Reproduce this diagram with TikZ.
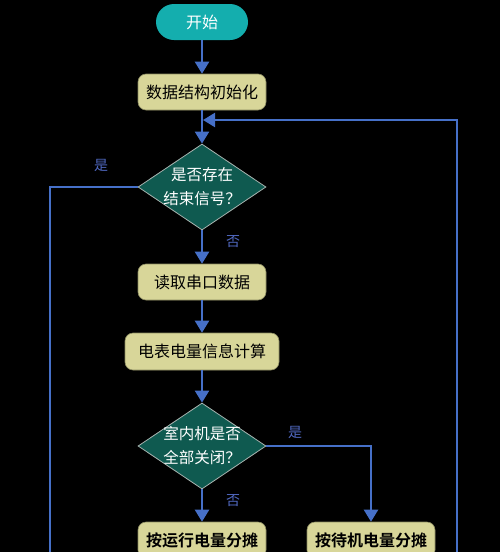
\documentclass[tikz,border=0pt]{standalone}
\usepackage{fontspec}
\newfontfamily\cjk[BoldFont={Noto Sans CJK SC Bold}]{Noto Sans CJK SC}
\usetikzlibrary{shapes.geometric}
\usetikzlibrary{arrows.meta}
\definecolor{bgblack}{HTML}{000000}
\definecolor{startteal}{HTML}{14AEAE}
\definecolor{boxkhaki}{HTML}{D8D699}
\definecolor{boxedge}{HTML}{8A8A60}
\definecolor{decgreen}{HTML}{0F5A50}
\definecolor{decedge}{HTML}{A8B4B0}
\definecolor{flowblue}{HTML}{4670C8}
\definecolor{lblblue}{HTML}{5068C0}
\tikzset{
	basenode/.style = {align=center, inner sep=0pt, text centered,
		font=\cjk\fontsize{16}{24}\selectfont},
	startnode/.style = {basenode, rectangle, rounded corners=18pt, fill=startteal,
		text=white, minimum width=92pt, minimum height=36pt},% start
	procnode/.style = {basenode, rectangle, rounded corners=8pt, fill=boxkhaki,
		draw=boxedge, line width=0.6pt, text=black, minimum width=128pt,
		minimum height=36pt},% process box
	decnode/.style = {basenode, diamond, fill=decgreen, draw=decedge,
		line width=0.8pt, minimum width=128pt, minimum height=86pt},% decision
	dectext/.style = {basenode, text=white, font=\cjk\fontsize{15.5}{24}\selectfont},
	yesno/.style = {basenode, text=lblblue, font=\cjk\fontsize{14}{16}\selectfont},
	flow/.style = {draw=flowblue, line width=2.2pt,
		-{Triangle[length=12pt,width=14pt]}},
	wire/.style = {draw=flowblue, line width=2.2pt}
}
\begin{document}
\begin{tikzpicture}[x=1pt,y=-1pt]
	\fill[bgblack] (0,0) rectangle (500,552);
	\useasboundingbox (0,0) rectangle (500,552);
	\clip (0,0) rectangle (500,552);
	% nodes
	\node [startnode] (start) at (202,22) {开始};
	\node [procnode] (init) at (202,92) {数据结构初始化};
	\node [decnode, label={[dectext]center:是否存在\\结束信号？}] (endq) at (202,187) {};
	\node [procnode] (read) at (202,282) {读取串口数据};
	\node [procnode, minimum width=154pt, minimum height=37pt] (calc) at (202,351.5) {电表电量信息计算};
	\node [decnode, label={[dectext]center:室内机是否\\全部关闭？}] (offq) at (202,446) {};
	\node [procnode, font=\cjk\bfseries\fontsize{16}{24}\selectfont] (runsplit) at (202,540) {按运行电量分摊};
	\node [procnode, font=\cjk\bfseries\fontsize{16}{24}\selectfont] (idlesplit) at (371,540) {按待机电量分摊};
	% yes / no labels
	\node [yesno] (yes1) at (101,165) {是};
	\node [yesno] (no1) at (233,242) {否};
	\node [yesno] (yes2) at (295,432) {是};
	\node [yesno] (no2) at (233,501) {否};
	% helper points
	\coordinate (join) at (203,120);
	\coordinate (loopr) at (457,120);
	\coordinate (loopb) at (457,560);
	\coordinate (leftb) at (50,560);
	% connectors
	\draw [flow] (start) -- (init);
	\draw [flow] (init) -- (endq);
	\draw [flow] (endq) -- (read);
	\draw [flow] (read) -- (calc);
	\draw [flow] (calc) -- (offq);
	\draw [flow] (offq) -- (runsplit);
	\draw [flow] (offq.east) -| (idlesplit.north);
	\draw [wire] (endq.west) -| (leftb);
	\draw [flow] (loopb) -- (loopr) -- (join);
\end{tikzpicture}
\end{document}
